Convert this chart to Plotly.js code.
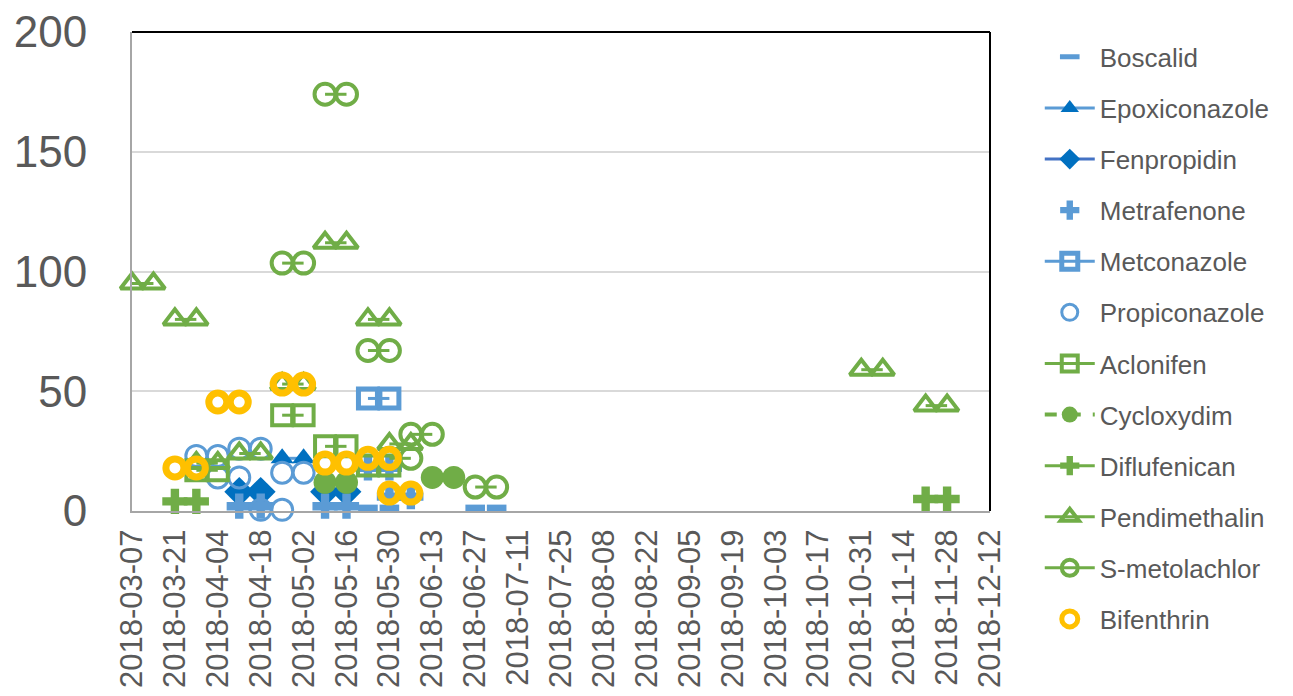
<!DOCTYPE html>
<html>
<head>
<meta charset="utf-8">
<script src="https://cdn.plot.ly/plotly-3.0.1.min.js"></script>
<style>
  html, body { margin: 0; padding: 0; background: #ffffff; }
  #chart { width: 1293px; height: 696px; }
</style>
</head>
<body>
<div id="chart"></div>
<script>
// Weekly sampling periods: [period start, period end, concentration]
const boscalid       = [['2018-05-23','2018-05-30',1], ['2018-06-27','2018-07-04',1]];
const epoxiconazole  = [['2018-04-25','2018-05-02',22]];
const fenpropidin    = [['2018-04-11','2018-04-18',8], ['2018-05-09','2018-05-16',8]];
const metrafenone    = [['2018-04-11','2018-04-18',2], ['2018-05-09','2018-05-16',2],
                        ['2018-05-23','2018-05-30',18], ['2018-05-30','2018-06-06',6]];
const metconazole    = [['2018-05-23','2018-05-30',47]];
const propiconazole  = [['2018-03-28','2018-04-04',23], ['2018-04-04','2018-04-11',14],
                        ['2018-04-11','2018-04-18',26], ['2018-04-18','2018-04-25',0.5],
                        ['2018-04-25','2018-05-02',16]];
const aclonifen      = [['2018-03-28','2018-04-04',17], ['2018-04-25','2018-05-02',40],
                        ['2018-05-09','2018-05-16',27], ['2018-05-23','2018-05-30',19]];
const cycloxydim     = [['2018-05-09','2018-05-16',12], ['2018-06-13','2018-06-20',14]];
const diflufenican   = [['2018-03-21','2018-03-28',4], ['2018-11-21','2018-11-28',5]];
const pendimethalin  = [['2018-03-07','2018-03-14',95], ['2018-03-21','2018-03-28',80],
                        ['2018-03-28','2018-04-04',20], ['2018-04-11','2018-04-18',24],
                        ['2018-04-25','2018-05-02',53], ['2018-05-09','2018-05-16',112],
                        ['2018-05-23','2018-05-30',80], ['2018-05-30','2018-06-06',28],
                        ['2018-10-31','2018-11-07',59], ['2018-11-21','2018-11-28',44]];
const sMetolachlor   = [['2018-04-25','2018-05-02',103.5], ['2018-05-09','2018-05-16',174],
                        ['2018-05-23','2018-05-30',67], ['2018-05-30','2018-06-06',22],
                        ['2018-06-06','2018-06-13',32], ['2018-06-27','2018-07-04',10]];
const bifenthrin     = [['2018-03-21','2018-03-28',18], ['2018-04-04','2018-04-11',45.5],
                        ['2018-04-25','2018-05-02',53], ['2018-05-09','2018-05-16',20],
                        ['2018-05-23','2018-05-30',22], ['2018-05-30','2018-06-06',7.5]];

const xTickDates = ['2018-03-07','2018-03-21','2018-04-04','2018-04-18','2018-05-02',
                    '2018-05-16','2018-05-30','2018-06-13','2018-06-27','2018-07-11',
                    '2018-07-25','2018-08-08','2018-08-22','2018-09-05','2018-09-19',
                    '2018-10-03','2018-10-17','2018-10-31','2018-11-14','2018-11-28',
                    '2018-12-12'];
const yTicks = [0, 50, 100, 150, 200];

const BLUE = '#5B9BD5', DARKBLUE = '#0070C0', NAVY = '#4472C4',
      GREEN = '#70AD47', GOLD = '#FFC000', TEXT = '#595959';

// Each period becomes a short segment from its start to its end date.
function periods(rows) {
  const x = [], y = [];
  rows.forEach(([a, b, v], i) => {
    if (i) { x.push(null); y.push(null); }
    x.push(a, b); y.push(v, v);
  });
  return { x, y };
}

function series(name, rows, opts) {
  const p = periods(rows);
  return Object.assign({
    type: 'scatter', name, x: p.x, y: p.y, legendgroup: name,
    connectgaps: false, cliponaxis: false, hoverinfo: 'x+y+name'
  }, opts);
}

const traces = [
  series('Boscalid', boscalid, { mode: 'markers',
    marker: { symbol: 'line-ew', size: 14, color: BLUE, line: { color: BLUE, width: 8 } } }),
  series('Epoxiconazole', epoxiconazole, { mode: 'lines+markers',
    line: { color: BLUE, width: 3 },
    marker: { symbol: 'triangle-up', size: 20, color: DARKBLUE, line: { width: 0 } } }),
  series('Fenpropidin', fenpropidin, { mode: 'lines+markers',
    line: { color: NAVY, width: 3 },
    marker: { symbol: 'diamond', size: 23, color: DARKBLUE, line: { width: 0 } } }),
  series('Metrafenone', metrafenone, { mode: 'markers',
    marker: { symbol: 'cross', size: 21, color: BLUE, line: { width: 0 } } }),
  series('Metconazole', metconazole, { mode: 'lines+markers',
    line: { color: BLUE, width: 3 },
    marker: { symbol: 'square-open', size: 19, color: BLUE, line: { color: BLUE, width: 5 } } }),
  series('Propiconazole', propiconazole, { mode: 'markers',
    marker: { symbol: 'circle-open', size: 21, color: BLUE, line: { color: BLUE, width: 3 } } }),
  series('Aclonifen', aclonifen, { mode: 'lines+markers',
    line: { color: GREEN, width: 3 },
    marker: { symbol: 'square-open', size: 20, color: GREEN, line: { color: GREEN, width: 4 } } }),
  series('Cycloxydim', cycloxydim, { mode: 'lines+markers',
    line: { color: GREEN, width: 4, dash: 'dash' },
    marker: { symbol: 'circle', size: 23, color: GREEN, line: { width: 0 } } }),
  series('Diflufenican', diflufenican, { mode: 'lines+markers',
    line: { color: GREEN, width: 3 },
    marker: { symbol: 'cross', size: 21, color: GREEN, line: { width: 0 } } }),
  series('Pendimethalin', pendimethalin, { mode: 'lines+markers',
    line: { color: GREEN, width: 3 },
    marker: { symbol: 'triangle-up-open', size: 20, color: GREEN, line: { color: GREEN, width: 4 } } }),
  series('S-metolachlor', sMetolachlor, { mode: 'lines+markers',
    line: { color: GREEN, width: 3 },
    marker: { symbol: 'circle-open', size: 21, color: GREEN, line: { color: GREEN, width: 4 } } }),
  series('Bifenthrin', bifenthrin, { mode: 'markers',
    marker: { symbol: 'circle-open', size: 18, color: GOLD, line: { color: GOLD, width: 7 } } })
];

const layout = {
  width: 1293, height: 696,
  paper_bgcolor: '#ffffff', plot_bgcolor: '#ffffff',
  margin: { l: 132, r: 303, t: 32, b: 185, pad: 0 },
  font: { family: 'Liberation Sans, Arial, sans-serif', color: TEXT },
  showlegend: true,
  legend: {
    x: 1.058, xanchor: 'left', y: 0.997, yanchor: 'top',
    font: { size: 26, color: TEXT },
    tracegroupgap: 14.3, itemwidth: 50, maxheight: 690,
    bgcolor: 'rgba(0,0,0,0)'
  },
  xaxis: {
    type: 'date',
    range: ['2018-03-07', '2018-12-12'],
    tickmode: 'array', tickvals: xTickDates, ticktext: xTickDates,
    tickangle: -90, tickfont: { size: 31, color: TEXT },
    showgrid: false, zeroline: false,
    showline: true, linecolor: '#A6A6A6', linewidth: 2,
    ticks: '', ticklabelstandoff: 4
  },
  yaxis: {
    range: [0, 200],
    tickmode: 'array', tickvals: yTicks,
    tickfont: { size: 44, color: TEXT },
    showgrid: true, gridcolor: '#D9D9D9', gridwidth: 2,
    zeroline: false,
    showline: true, linecolor: '#A6A6A6', linewidth: 2,
    ticks: '', ticklabelstandoff: 34
  },
  shapes: [
    { type: 'line', xref: 'paper', yref: 'paper', x0: 0, x1: 1, y0: 1, y1: 1,
      line: { color: '#000000', width: 2 } },
    { type: 'line', xref: 'paper', yref: 'paper', x0: 1, x1: 1, y0: 0, y1: 1,
      line: { color: '#000000', width: 2 } }
  ]
};

Plotly.newPlot('chart', traces, layout, { displayModeBar: false, staticPlot: true });
</script>
</body>
</html>
